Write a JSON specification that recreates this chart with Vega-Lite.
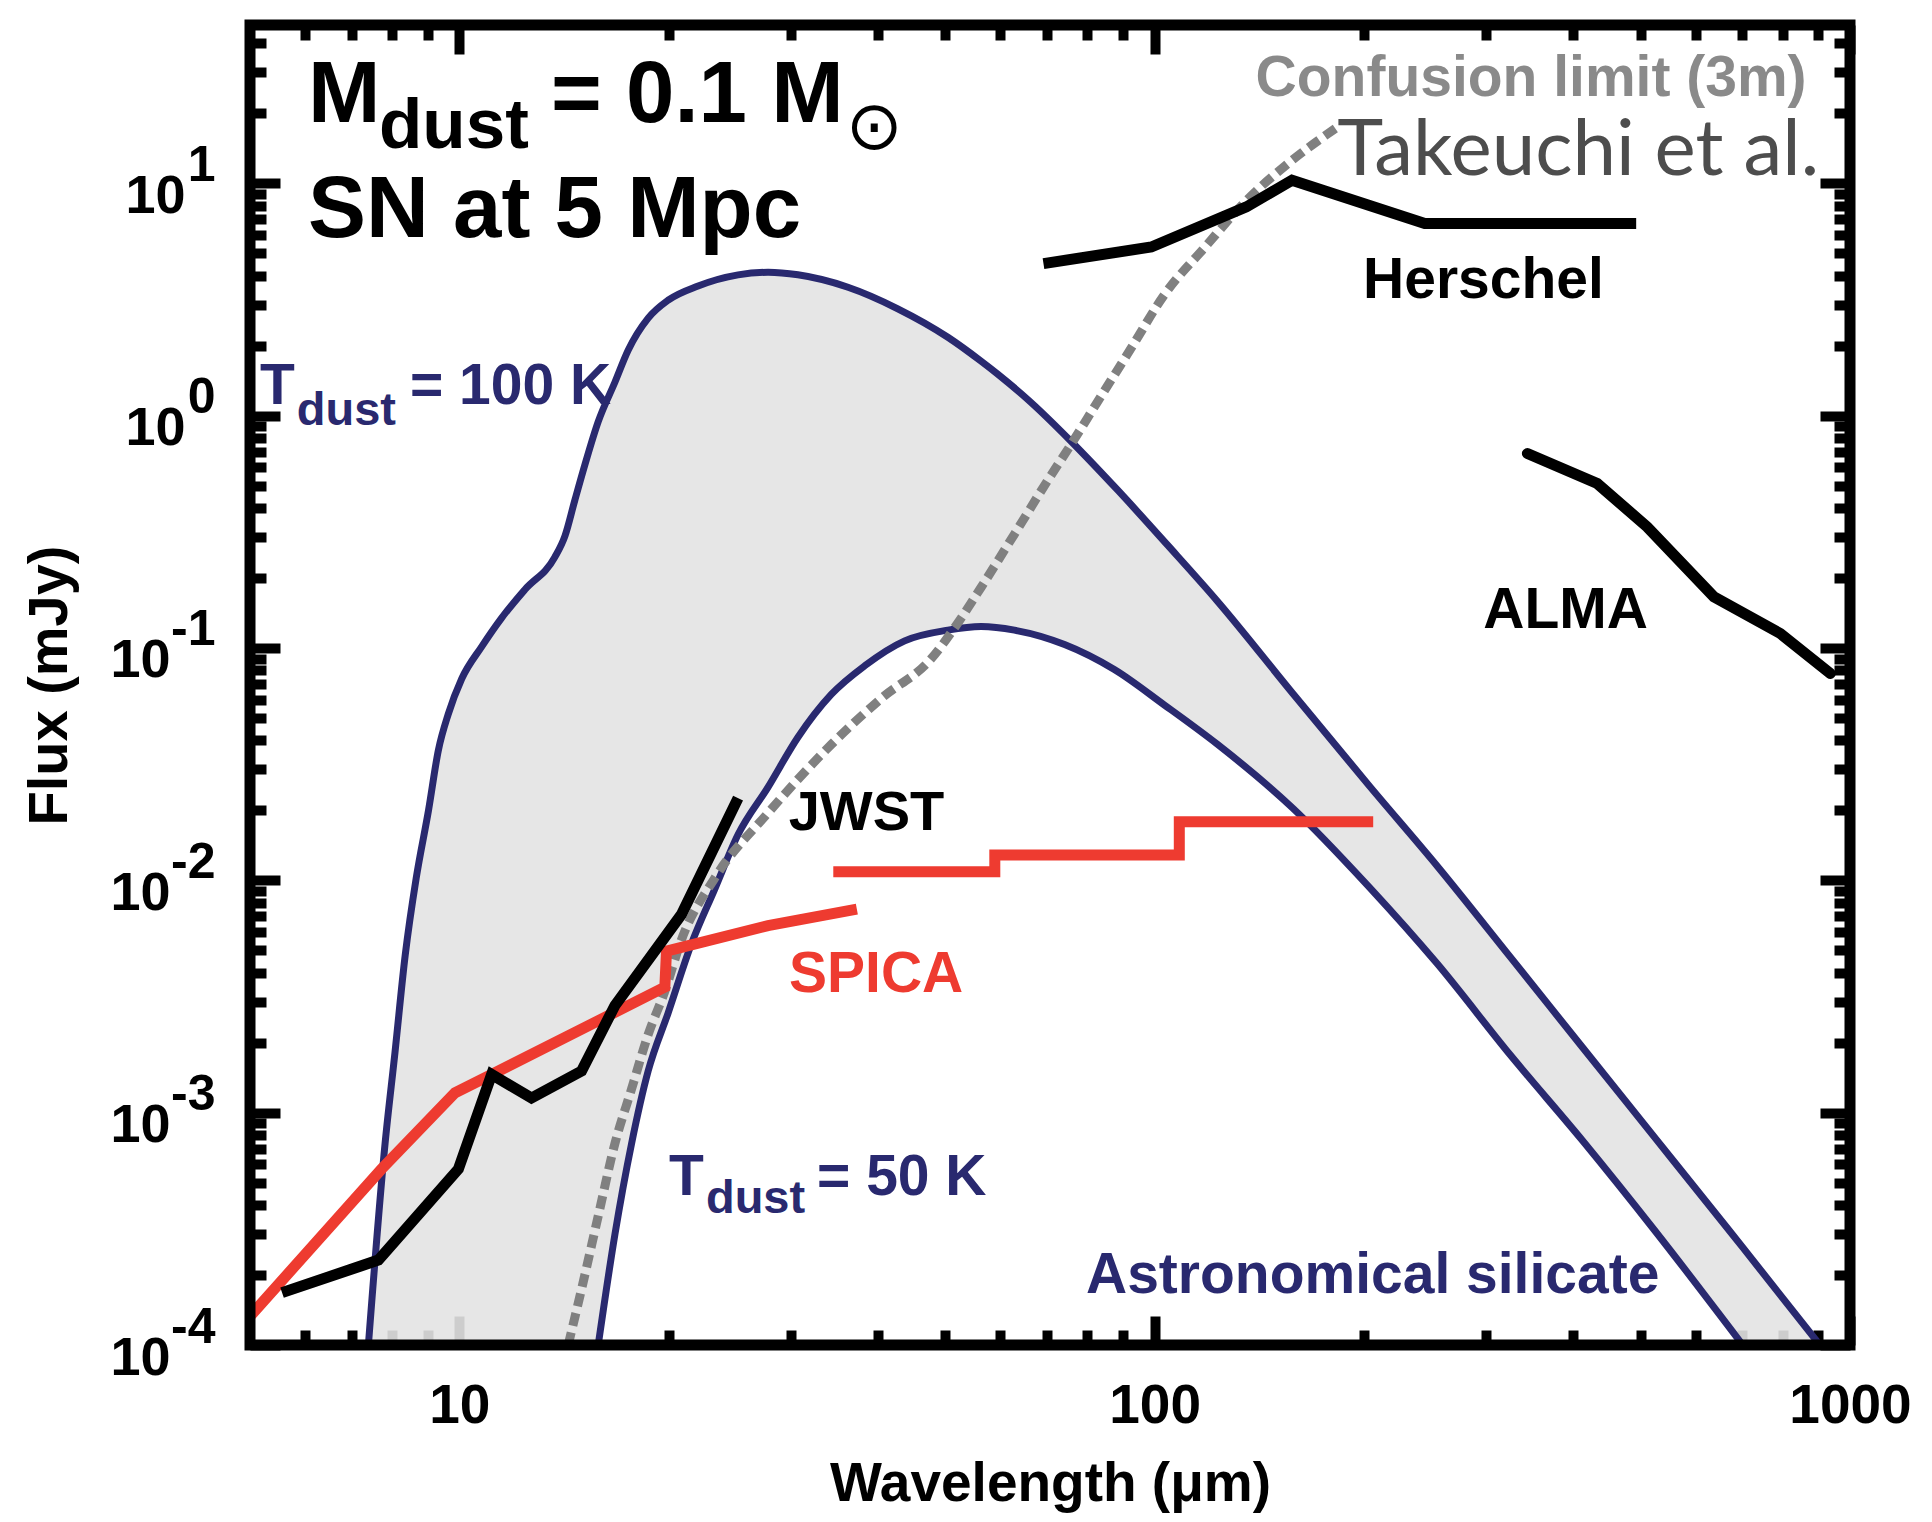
{
  "$schema": "https://vega.github.io/schema/vega-lite/v6.json",
  "width": 1600,
  "height": 1320,
  "autosize": {"type": "none"},
  "padding": {"left": 250, "top": 25, "right": 82, "bottom": 177},
  "background": "#ffffff",
  "config": {"view": {"stroke": null}, "axis": {"grid": false, "domain": false}},
  "datasets": {
    "band": [
      {"x": 7.40, "hi": 0.0001, "lo": 0.0001},
      {"x": 7.82, "hi": 0.000736, "lo": 0.0001},
      {"x": 8.08, "hi": 0.00181, "lo": 0.0001},
      {"x": 8.36, "hi": 0.00477, "lo": 0.0001},
      {"x": 8.67, "hi": 0.01023, "lo": 0.0001},
      {"x": 9.03, "hi": 0.0200, "lo": 0.0001},
      {"x": 9.33, "hi": 0.0363, "lo": 0.0001},
      {"x": 9.64, "hi": 0.0519, "lo": 0.0001},
      {"x": 10.08, "hi": 0.0737, "lo": 0.0001},
      {"x": 10.77, "hi": 0.1014, "lo": 0.0001},
      {"x": 11.5, "hi": 0.1345, "lo": 0.0001},
      {"x": 12.43, "hi": 0.1785, "lo": 0.0001},
      {"x": 13.72, "hi": 0.246, "lo": 0.0001},
      {"x": 14.19, "hi": 0.3037, "lo": 0.0001},
      {"x": 14.66, "hi": 0.4325, "lo": 0.0001},
      {"x": 15.16, "hi": 0.616, "lo": 0.0001},
      {"x": 15.84, "hi": 0.942, "lo": 0.0001},
      {"x": 16.74, "hi": 1.392, "lo": 0.000299},
      {"x": 17.49, "hi": 1.911, "lo": 0.000613},
      {"x": 18.69, "hi": 2.628, "lo": 0.001512},
      {"x": 19.97, "hi": 3.14, "lo": 0.00269},
      {"x": 22.05, "hi": 3.614, "lo": 0.00623},
      {"x": 25.17, "hi": 4.036, "lo": 0.01574},
      {"x": 27.8, "hi": 4.14, "lo": 0.0252},
      {"x": 30.69, "hi": 4.036, "lo": 0.0413},
      {"x": 36.22, "hi": 3.568, "lo": 0.0727},
      {"x": 42.72, "hi": 2.882, "lo": 0.1029},
      {"x": 50.42, "hi": 2.174, "lo": 0.1193},
      {"x": 56.3, "hi": 1.714, "lo": 0.1236},
      {"x": 59.5, "hi": 1.507, "lo": 0.1229},
      {"x": 66.35, "hi": 1.142, "lo": 0.1138},
      {"x": 75.8, "hi": 0.776, "lo": 0.1002},
      {"x": 88.5, "hi": 0.4775, "lo": 0.0789},
      {"x": 104.4, "hi": 0.2769, "lo": 0.0554},
      {"x": 123.1, "hi": 0.159, "lo": 0.0385},
      {"x": 157.9, "hi": 0.0639, "lo": 0.02049},
      {"x": 203.7, "hi": 0.02543, "lo": 0.00935},
      {"x": 255.0, "hi": 0.0115, "lo": 0.00437},
      {"x": 324.8, "hi": 0.00467, "lo": 0.00177},
      {"x": 412.0, "hi": 0.001916, "lo": 0.000762},
      {"x": 524.7, "hi": 0.000777, "lo": 0.000309},
      {"x": 667.8, "hi": 0.0003155, "lo": 0.000126},
      {"x": 701, "hi": 0.000263, "lo": 0.0001},
      {"x": 905, "hi": 0.0001, "lo": 0.0001}
    ],
    "lower": [
      {"x": 15.84, "y": 0.0001}, {"x": 16.74, "y": 0.000299}, {"x": 17.69, "y": 0.000736},
      {"x": 18.69, "y": 0.001512}, {"x": 19.97, "y": 0.00269}, {"x": 21.57, "y": 0.00533},
      {"x": 23.3, "y": 0.00917}, {"x": 25.17, "y": 0.01574}, {"x": 27.8, "y": 0.0252},
      {"x": 30.69, "y": 0.0413}, {"x": 34.27, "y": 0.0631}, {"x": 38.28, "y": 0.0838},
      {"x": 43.7, "y": 0.1073}, {"x": 50.42, "y": 0.1193}, {"x": 56.3, "y": 0.1236},
      {"x": 62.86, "y": 0.1193}, {"x": 74.2, "y": 0.1035}, {"x": 87.5, "y": 0.0808},
      {"x": 103.3, "y": 0.0568}, {"x": 123.1, "y": 0.0385}, {"x": 157.9, "y": 0.02049},
      {"x": 203.5, "y": 0.00935}, {"x": 254.8, "y": 0.00438}, {"x": 324.3, "y": 0.001778},
      {"x": 412.6, "y": 0.000757}, {"x": 525.2, "y": 0.000308}, {"x": 701, "y": 0.0001}
    ],
    "confusion": [
      {"x": 14.34, "y": 0.0001}, {"x": 14.99, "y": 0.000174}, {"x": 15.84, "y": 0.000359},
      {"x": 16.74, "y": 0.000736}, {"x": 17.69, "y": 0.001265}, {"x": 18.69, "y": 0.00217},
      {"x": 19.75, "y": 0.00333}, {"x": 20.86, "y": 0.00553}, {"x": 23.3, "y": 0.01023},
      {"x": 27.8, "y": 0.0195}, {"x": 34.3, "y": 0.0385}, {"x": 40.5, "y": 0.0609},
      {"x": 47.7, "y": 0.0898}, {"x": 52.1, "y": 0.128}, {"x": 56.3, "y": 0.1826},
      {"x": 62.9, "y": 0.31}, {"x": 70.2, "y": 0.527}, {"x": 75.8, "y": 0.751},
      {"x": 82.8, "y": 1.149}, {"x": 92.5, "y": 1.951}, {"x": 103.3, "y": 3.32},
      {"x": 118.2, "y": 5.32}, {"x": 135.6, "y": 8.45}, {"x": 155.5, "y": 12.16},
      {"x": 183.2, "y": 17.47}
    ],
    "jwst": [
      {"x": 5.56, "y": 0.000168}, {"x": 7.65, "y": 0.000232}, {"x": 9.97, "y": 0.000572},
      {"x": 11.13, "y": 0.00146}, {"x": 12.7, "y": 0.001156}, {"x": 14.99, "y": 0.00151},
      {"x": 16.74, "y": 0.00289}, {"x": 20.86, "y": 0.00712}, {"x": 25.17, "y": 0.0226}
    ],
    "spica_mir": [
      {"x": 5.0, "y": 0.000133}, {"x": 7.73, "y": 0.000572}, {"x": 9.86, "y": 0.001218},
      {"x": 11.13, "y": 0.001459}, {"x": 19.75, "y": 0.00347}, {"x": 19.86, "y": 0.00496},
      {"x": 27.8, "y": 0.00638}, {"x": 37.3, "y": 0.00752}
    ],
    "spica_fir": [
      {"x": 34.5, "y": 0.01088}, {"x": 58.9, "y": 0.01284}, {"x": 108.5, "y": 0.01786}, {"x": 206.2, "y": 0.01786}
    ],
    "herschel": [
      {"x": 69.2, "y": 4.51}, {"x": 98.9, "y": 5.32}, {"x": 135.5, "y": 7.91},
      {"x": 157.6, "y": 10.3}, {"x": 244.6, "y": 6.71}, {"x": 492.6, "y": 6.71}
    ],
    "alma": [
      {"x": 343.6, "y": 0.687}, {"x": 433, "y": 0.51}, {"x": 510.9, "y": 0.332},
      {"x": 637.2, "y": 0.166}, {"x": 794, "y": 0.1154}, {"x": 937, "y": 0.0777}
    ]
  },
  "resolve": {"axis": {"x": "independent", "y": "independent"}},
  "layer": [
    {
      "data": {"name": "band"},
      "mark": {"type": "area", "interpolate": "monotone", "fill": "#e3e3e3", "fillOpacity": 0.9, "clip": true},
      "encoding": {
        "x": {"field": "x", "type": "quantitative", "scale": {"type": "log", "domain": [5, 1000], "nice": false},
          "axis": {"orient": "bottom", "values": [10, 100, 1000], "ticks": false, "domain": false, "grid": false,
            "labelExpr": "datum.value >= 1000 ? '1000' : datum.value >= 100 ? '100' : '10'",
            "labelFont": "Liberation Sans", "labelFontWeight": "bold", "labelFontSize": 55, "labelColor": "#000000",
            "labelPadding": 77, "labelBaseline": "alphabetic", "labelAlign": "center", "labelFlush": false, "labelOverlap": false,
            "title": "Wavelength (μm)", "titleFont": "Liberation Sans", "titleFontWeight": "bold", "titleFontSize": 55,
            "titleColor": "#000000", "titleX": 800, "titleY": 155, "titleAlign": "center", "titleBaseline": "alphabetic", "zindex": 0}},
        "y": {"field": "hi", "type": "quantitative", "scale": {"type": "log", "domain": [0.0001, 48], "nice": false},
          "axis": {"orient": "left", "values": [0.0001, 0.001, 0.01, 0.1, 1, 10], "ticks": false, "domain": false, "grid": false,
            "labelExpr": "'10'", "labelFont": "Liberation Sans", "labelFontWeight": "bold", "labelFontSize": 54, "labelColor": "#000000",
            "labelAlign": "right", "labelBaseline": "alphabetic", "labelOffset": 29,
            "labelPadding": {"condition": {"test": "datum.value < 0.5", "value": 80}, "value": 65},
            "labelFlush": false, "labelOverlap": false,
            "title": "Flux (mJy)", "titleFont": "Liberation Sans", "titleFontWeight": "bold", "titleFontSize": 56, "titleColor": "#000000",
            "titleAngle": -90, "titleX": -184, "titleY": 660, "titleAlign": "center", "titleBaseline": "alphabetic", "zindex": 0}},
        "y2": {"field": "lo"}
      }
    },
    {
      "data": {"name": "band"},
      "mark": {"type": "line", "interpolate": "monotone", "stroke": "#29296f", "strokeWidth": 7, "clip": true},
      "encoding": {
        "x": {"field": "x", "type": "quantitative", "scale": {"type": "log", "domain": [5, 1000], "nice": false},
          "axis": {"orient": "bottom", "values": [6, 7, 8, 9, 10, 20, 30, 40, 50, 60, 70, 80, 90, 100, 200, 300, 400, 500, 600, 700, 800, 900, 1000],
            "labels": false, "domain": false, "grid": false, "ticks": true, "tickColor": "#000000", "tickWidth": 10,
            "tickSize": {"condition": {"test": "datum.value == 10 || datum.value == 100 || datum.value == 1000", "value": -29}, "value": -15},
            "title": null, "zindex": 0}},
        "y": {"field": "hi", "type": "quantitative", "scale": {"type": "log", "domain": [0.0001, 48], "nice": false},
          "axis": {"orient": "left", "values": [0.0001, 0.0002, 0.0003, 0.0004, 0.0005, 0.0006, 0.0007, 0.0008, 0.0009, 0.001, 0.002, 0.003, 0.004, 0.005, 0.006, 0.007, 0.008, 0.009, 0.01, 0.02, 0.03, 0.04, 0.05, 0.06, 0.07, 0.08, 0.09, 0.1, 0.2, 0.3, 0.4, 0.5, 0.6, 0.7, 0.8, 0.9, 1, 2, 3, 4, 5, 6, 7, 8, 9, 10, 20, 30, 40],
            "labels": false, "domain": false, "grid": false, "ticks": true, "tickColor": "#000000", "tickWidth": 10,
            "tickSize": {"condition": {"test": "abs(log(datum.value)/LN10 - round(log(datum.value)/LN10)) < 0.01", "value": -30}, "value": -16},
            "title": null, "zindex": 0}}
      }
    },
    {
      "data": {"name": "lower"},
      "mark": {"type": "line", "interpolate": "monotone", "stroke": "#29296f", "strokeWidth": 7, "clip": true},
      "encoding": {
        "x": {"field": "x", "type": "quantitative", "scale": {"type": "log", "domain": [5, 1000], "nice": false},
          "axis": {"orient": "top", "values": [6, 7, 8, 9, 10, 20, 30, 40, 50, 60, 70, 80, 90, 100, 200, 300, 400, 500, 600, 700, 800, 900, 1000],
            "labels": false, "domain": false, "grid": false, "ticks": true, "tickColor": "#000000", "tickWidth": 10,
            "tickSize": {"condition": {"test": "datum.value == 10 || datum.value == 100 || datum.value == 1000", "value": -29}, "value": -15},
            "title": null, "zindex": 0}},
        "y": {"field": "y", "type": "quantitative", "scale": {"type": "log", "domain": [0.0001, 48], "nice": false},
          "axis": {"orient": "right", "values": [0.0001, 0.0002, 0.0003, 0.0004, 0.0005, 0.0006, 0.0007, 0.0008, 0.0009, 0.001, 0.002, 0.003, 0.004, 0.005, 0.006, 0.007, 0.008, 0.009, 0.01, 0.02, 0.03, 0.04, 0.05, 0.06, 0.07, 0.08, 0.09, 0.1, 0.2, 0.3, 0.4, 0.5, 0.6, 0.7, 0.8, 0.9, 1, 2, 3, 4, 5, 6, 7, 8, 9, 10, 20, 30, 40],
            "labels": false, "domain": false, "grid": false, "ticks": true, "tickColor": "#000000", "tickWidth": 10,
            "tickSize": {"condition": {"test": "abs(log(datum.value)/LN10 - round(log(datum.value)/LN10)) < 0.01", "value": -30}, "value": -16},
            "title": null, "zindex": 0}}
      }
    },
    {
      "data": {"name": "confusion"},
      "mark": {"type": "line", "interpolate": "monotone", "stroke": "#808080", "strokeWidth": 9, "strokeDash": [13, 7], "clip": true},
      "encoding": {
        "x": {"field": "x", "type": "quantitative", "scale": {"type": "log", "domain": [5, 1000], "nice": false}, "axis": null},
        "y": {"field": "y", "type": "quantitative", "scale": {"type": "log", "domain": [0.0001, 48], "nice": false},
          "axis": {"orient": "left", "values": [0.0001, 0.001, 0.01, 0.1, 1, 10], "ticks": false, "domain": false, "grid": false,
            "labelExpr": "'' + round(log(datum.value)/LN10)", "labelFont": "Liberation Sans", "labelFontWeight": "bold", "labelFontSize": 50,
            "labelColor": "#000000", "labelAlign": "right", "labelBaseline": "alphabetic", "labelOffset": -3, "labelPadding": 35,
            "labelFlush": false, "labelOverlap": false, "title": null, "zindex": 0}}
      }
    },
    {
      "data": {"name": "spica_mir"},
      "mark": {"type": "line", "stroke": "#ee3b30", "strokeWidth": 11, "clip": true},
      "encoding": {
        "x": {"field": "x", "type": "quantitative", "scale": {"type": "log", "domain": [5, 1000], "nice": false}, "axis": null},
        "y": {"field": "y", "type": "quantitative", "scale": {"type": "log", "domain": [0.0001, 48], "nice": false}, "axis": null}
      }
    },
    {
      "data": {"name": "spica_fir"},
      "mark": {"type": "line", "interpolate": "step-after", "stroke": "#ee3b30", "strokeWidth": 11, "clip": true},
      "encoding": {
        "x": {"field": "x", "type": "quantitative", "scale": {"type": "log", "domain": [5, 1000], "nice": false}, "axis": null},
        "y": {"field": "y", "type": "quantitative", "scale": {"type": "log", "domain": [0.0001, 48], "nice": false}, "axis": null}
      }
    },
    {
      "data": {"name": "jwst"},
      "mark": {"type": "line", "stroke": "#000000", "strokeWidth": 11, "clip": true},
      "encoding": {
        "x": {"field": "x", "type": "quantitative", "scale": {"type": "log", "domain": [5, 1000], "nice": false}, "axis": null},
        "y": {"field": "y", "type": "quantitative", "scale": {"type": "log", "domain": [0.0001, 48], "nice": false}, "axis": null}
      }
    },
    {
      "data": {"name": "herschel"},
      "mark": {"type": "line", "stroke": "#000000", "strokeWidth": 11, "clip": true},
      "encoding": {
        "x": {"field": "x", "type": "quantitative", "scale": {"type": "log", "domain": [5, 1000], "nice": false}, "axis": null},
        "y": {"field": "y", "type": "quantitative", "scale": {"type": "log", "domain": [0.0001, 48], "nice": false}, "axis": null}
      }
    },
    {
      "data": {"name": "alma"},
      "mark": {"type": "line", "stroke": "#000000", "strokeWidth": 11, "strokeCap": "round", "clip": true},
      "encoding": {
        "x": {"field": "x", "type": "quantitative", "scale": {"type": "log", "domain": [5, 1000], "nice": false}, "axis": null},
        "y": {"field": "y", "type": "quantitative", "scale": {"type": "log", "domain": [0.0001, 48], "nice": false}, "axis": null}
      }
    },
    {
      "data": {"values": [{}]},
      "mark": {"type": "text", "text": "M", "font": "Liberation Sans", "fontWeight": "bold", "fontSize": 87, "fill": "#000000", "align": "left", "baseline": "alphabetic"},
      "encoding": {"x": {"datum": 6.059, "type": "quantitative", "scale": {"type": "log", "domain": [5, 1000], "nice": false}, "axis": null},
        "y": {"datum": 18.36, "type": "quantitative", "scale": {"type": "log", "domain": [0.0001, 48], "nice": false}, "axis": null}}
    },
    {
      "data": {"values": [{}]},
      "mark": {"type": "text", "text": "dust", "font": "Liberation Sans", "fontWeight": "bold", "fontSize": 71, "fill": "#000000", "align": "left", "baseline": "alphabetic"},
      "encoding": {"x": {"datum": 7.664, "type": "quantitative", "scale": {"type": "log", "domain": [5, 1000], "nice": false}, "axis": null},
        "y": {"datum": 14.19, "type": "quantitative", "scale": {"type": "log", "domain": [0.0001, 48], "nice": false}, "axis": null}}
    },
    {
      "data": {"values": [{}]},
      "mark": {"type": "text", "text": "= 0.1 M", "font": "Liberation Sans", "fontWeight": "bold", "fontSize": 87, "fill": "#000000", "align": "left", "baseline": "alphabetic"},
      "encoding": {"x": {"datum": 13.55, "type": "quantitative", "scale": {"type": "log", "domain": [5, 1000], "nice": false}, "axis": null},
        "y": {"datum": 18.36, "type": "quantitative", "scale": {"type": "log", "domain": [0.0001, 48], "nice": false}, "axis": null}}
    },
    {
      "data": {"values": [{}]},
      "mark": {"type": "text", "text": "⊙", "font": "DejaVu Sans", "fontSize": 68, "fill": "#000000", "align": "center", "baseline": "alphabetic"},
      "encoding": {"x": {"datum": 39.5, "type": "quantitative", "scale": {"type": "log", "domain": [5, 1000], "nice": false}, "axis": null},
        "y": {"datum": 14.0, "type": "quantitative", "scale": {"type": "log", "domain": [0.0001, 48], "nice": false}, "axis": null}}
    },
    {
      "data": {"values": [{}]},
      "mark": {"type": "text", "text": "SN at 5 Mpc", "font": "Liberation Sans", "fontWeight": "bold", "fontSize": 87, "fill": "#000000", "align": "left", "baseline": "alphabetic"},
      "encoding": {"x": {"datum": 6.059, "type": "quantitative", "scale": {"type": "log", "domain": [5, 1000], "nice": false}, "axis": null},
        "y": {"datum": 5.873, "type": "quantitative", "scale": {"type": "log", "domain": [0.0001, 48], "nice": false}, "axis": null}}
    },
    {
      "data": {"values": [{}]},
      "mark": {"type": "text", "text": "T", "font": "Liberation Sans", "fontWeight": "bold", "fontSize": 57, "fill": "#29296f", "align": "left", "baseline": "alphabetic"},
      "encoding": {"x": {"datum": 5.168, "type": "quantitative", "scale": {"type": "log", "domain": [5, 1000], "nice": false}, "axis": null},
        "y": {"datum": 1.1264, "type": "quantitative", "scale": {"type": "log", "domain": [0.0001, 48], "nice": false}, "axis": null}}
    },
    {
      "data": {"values": [{}]},
      "mark": {"type": "text", "text": "dust", "font": "Liberation Sans", "fontWeight": "bold", "fontSize": 47, "fill": "#29296f", "align": "left", "baseline": "alphabetic"},
      "encoding": {"x": {"datum": 5.837, "type": "quantitative", "scale": {"type": "log", "domain": [5, 1000], "nice": false}, "axis": null},
        "y": {"datum": 0.9113, "type": "quantitative", "scale": {"type": "log", "domain": [0.0001, 48], "nice": false}, "axis": null}}
    },
    {
      "data": {"values": [{}]},
      "mark": {"type": "text", "text": "= 100 K", "font": "Liberation Sans", "fontWeight": "bold", "fontSize": 57, "fill": "#29296f", "align": "left", "baseline": "alphabetic"},
      "encoding": {"x": {"datum": 8.493, "type": "quantitative", "scale": {"type": "log", "domain": [5, 1000], "nice": false}, "axis": null},
        "y": {"datum": 1.1264, "type": "quantitative", "scale": {"type": "log", "domain": [0.0001, 48], "nice": false}, "axis": null}}
    },
    {
      "data": {"values": [{}]},
      "mark": {"type": "text", "text": "T", "font": "Liberation Sans", "fontWeight": "bold", "fontSize": 57, "fill": "#29296f", "align": "left", "baseline": "alphabetic"},
      "encoding": {"x": {"datum": 20.03, "type": "quantitative", "scale": {"type": "log", "domain": [5, 1000], "nice": false}, "axis": null},
        "y": {"datum": 0.000442, "type": "quantitative", "scale": {"type": "log", "domain": [0.0001, 48], "nice": false}, "axis": null}}
    },
    {
      "data": {"values": [{}]},
      "mark": {"type": "text", "text": "dust", "font": "Liberation Sans", "fontWeight": "bold", "fontSize": 47, "fill": "#29296f", "align": "left", "baseline": "alphabetic"},
      "encoding": {"x": {"datum": 22.63, "type": "quantitative", "scale": {"type": "log", "domain": [5, 1000], "nice": false}, "axis": null},
        "y": {"datum": 0.0003699, "type": "quantitative", "scale": {"type": "log", "domain": [0.0001, 48], "nice": false}, "axis": null}}
    },
    {
      "data": {"values": [{}]},
      "mark": {"type": "text", "text": "= 50 K", "font": "Liberation Sans", "fontWeight": "bold", "fontSize": 57, "fill": "#29296f", "align": "left", "baseline": "alphabetic"},
      "encoding": {"x": {"datum": 32.69, "type": "quantitative", "scale": {"type": "log", "domain": [5, 1000], "nice": false}, "axis": null},
        "y": {"datum": 0.000442, "type": "quantitative", "scale": {"type": "log", "domain": [0.0001, 48], "nice": false}, "axis": null}}
    },
    {
      "data": {"values": [{}]},
      "mark": {"type": "text", "text": "Astronomical silicate", "font": "Liberation Sans", "fontWeight": "bold", "fontSize": 57, "fill": "#29296f", "align": "left", "baseline": "alphabetic"},
      "encoding": {"x": {"datum": 79.66, "type": "quantitative", "scale": {"type": "log", "domain": [5, 1000], "nice": false}, "axis": null},
        "y": {"datum": 0.0001674, "type": "quantitative", "scale": {"type": "log", "domain": [0.0001, 48], "nice": false}, "axis": null}}
    },
    {
      "data": {"values": [{}]},
      "mark": {"type": "text", "text": "JWST", "font": "Liberation Sans", "fontWeight": "bold", "fontSize": 56, "fill": "#000000", "align": "left", "baseline": "alphabetic"},
      "encoding": {"x": {"datum": 29.76, "type": "quantitative", "scale": {"type": "log", "domain": [5, 1000], "nice": false}, "axis": null},
        "y": {"datum": 0.01646, "type": "quantitative", "scale": {"type": "log", "domain": [0.0001, 48], "nice": false}, "axis": null}}
    },
    {
      "data": {"values": [{}]},
      "mark": {"type": "text", "text": "SPICA", "font": "Liberation Sans", "fontWeight": "bold", "fontSize": 57, "fill": "#ee3b30", "align": "left", "baseline": "alphabetic"},
      "encoding": {"x": {"datum": 29.8, "type": "quantitative", "scale": {"type": "log", "domain": [5, 1000], "nice": false}, "axis": null},
        "y": {"datum": 0.003306, "type": "quantitative", "scale": {"type": "log", "domain": [0.0001, 48], "nice": false}, "axis": null}}
    },
    {
      "data": {"values": [{}]},
      "mark": {"type": "text", "text": "Herschel", "font": "Liberation Sans", "fontWeight": "bold", "fontSize": 57, "fill": "#000000", "align": "left", "baseline": "alphabetic"},
      "encoding": {"x": {"datum": 199.4, "type": "quantitative", "scale": {"type": "log", "domain": [5, 1000], "nice": false}, "axis": null},
        "y": {"datum": 3.208, "type": "quantitative", "scale": {"type": "log", "domain": [0.0001, 48], "nice": false}, "axis": null}}
    },
    {
      "data": {"values": [{}]},
      "mark": {"type": "text", "text": "ALMA", "font": "Liberation Sans", "fontWeight": "bold", "fontSize": 57, "fill": "#000000", "align": "left", "baseline": "alphabetic"},
      "encoding": {"x": {"datum": 296.9, "type": "quantitative", "scale": {"type": "log", "domain": [5, 1000], "nice": false}, "axis": null},
        "y": {"datum": 0.1215, "type": "quantitative", "scale": {"type": "log", "domain": [0.0001, 48], "nice": false}, "axis": null}}
    },
    {
      "data": {"values": [{}]},
      "mark": {"type": "text", "text": "Confusion limit (3m)", "font": "Liberation Sans", "fontWeight": "bold", "fontSize": 57, "fill": "#8a8a8a", "align": "left", "baseline": "alphabetic"},
      "encoding": {"x": {"datum": 139.7, "type": "quantitative", "scale": {"type": "log", "domain": [5, 1000], "nice": false}, "axis": null},
        "y": {"datum": 23.75, "type": "quantitative", "scale": {"type": "log", "domain": [0.0001, 48], "nice": false}, "axis": null}}
    },
    {
      "data": {"values": [{}]},
      "mark": {"type": "text", "text": "Takeuchi et al.", "font": "Lato", "fontSize": 78, "fill": "#4d4d4d", "align": "left", "baseline": "alphabetic"},
      "encoding": {"x": {"datum": 183.0, "type": "quantitative", "scale": {"type": "log", "domain": [5, 1000], "nice": false}, "axis": null},
        "y": {"datum": 10.856, "type": "quantitative", "scale": {"type": "log", "domain": [0.0001, 48], "nice": false}, "axis": null}}
    },
    {
      "data": {"values": [{}]},
      "mark": {"type": "rect", "fill": "transparent", "stroke": "#000000", "strokeWidth": 11},
      "encoding": {
        "x": {"datum": 5, "type": "quantitative", "scale": {"type": "log", "domain": [5, 1000], "nice": false}, "axis": null},
        "x2": {"datum": 1000},
        "y": {"datum": 0.0001, "type": "quantitative", "scale": {"type": "log", "domain": [0.0001, 48], "nice": false}, "axis": null},
        "y2": {"datum": 48}
      }
    }
  ]
}
